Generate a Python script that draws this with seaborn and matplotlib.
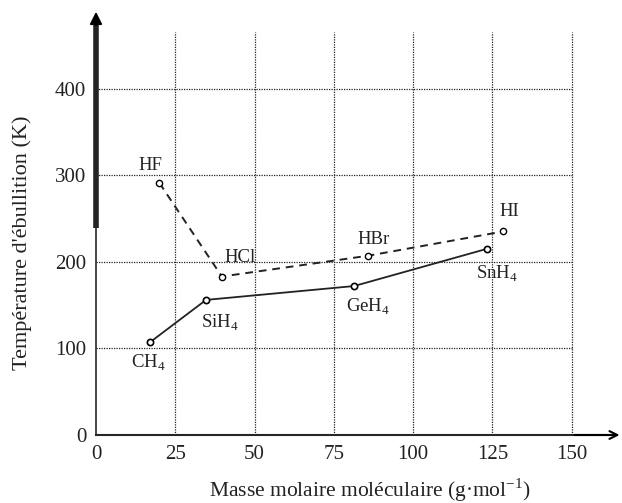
import pandas as pd
import seaborn as sns
import matplotlib.pyplot as plt

# données
masse_hx = [20, 39.7, 85.8, 128.4]
teb_hx = [291, 183, 207, 235]
noms_hx = ['HF', 'HCl', 'HBr', 'HI']

masse_xh4 = [17, 34.7, 81.4, 123.3]
teb_xh4 = [107, 156, 172, 215]
noms_xh4 = ['CH$_4$', 'SiH$_4$', 'GeH$_4$', 'SnH$_4$']

xticks = [0, 25, 50, 75, 100, 125, 150]
yticks = [0, 100, 200, 300, 400]

sns.set_style('white')
plt.rcParams['font.family'] = ['Liberation Serif', 'DejaVu Serif']
plt.rcParams['mathtext.fontset'] = 'custom'
plt.rcParams['mathtext.rm'] = 'Liberation Serif'

df_hx = pd.DataFrame({'M': masse_hx, 'T': teb_hx})
df_xh4 = pd.DataFrame({'M': masse_xh4, 'T': teb_xh4})

fig = plt.figure(figsize=(6.22, 5.03), dpi=100)
ax = fig.add_axes([96 / 622, 1 - 435 / 503, (616 - 96) / 622, (435 - 15) / 503])
ax.set_xlim(0, 164)
ax.set_ylim(0, 485)

# grille pointillée limitée à x <= 150
ax.vlines(xticks[1:], 0, 465, colors='#222222', linestyles=(0, (1, 1)), linewidth=0.9, zorder=0)
ax.hlines(yticks[1:], 0, 150, colors='#222222', linestyles=(0, (1, 1)), linewidth=0.9, zorder=0)

sns.lineplot(data=df_hx, x='M', y='T', ax=ax, color='#222222', linestyle=(0, (4, 3)), linewidth=1.4,
             marker='o', markersize=4.5, markerfacecolor='white', markeredgecolor='black',
             markeredgewidth=1.0, sort=False)
sns.lineplot(data=df_xh4, x='M', y='T', ax=ax, color='#222222', linewidth=1.3,
             marker='o', markersize=4.5, markerfacecolor='white', markeredgecolor='black',
             markeredgewidth=1.2, sort=False)

# étiquettes
decal_hx = [(-2.8, 20), (5.7, 22), (1.9, 18.5), (1.9, 23)]
for m, t, n, d in zip(masse_hx, teb_hx, noms_hx, decal_hx):
    ax.text(m + d[0], t + d[1], n, fontsize=13.5, ha='center', va='center', color='#222222')
decal_xh4 = [(-0.6, -24), (4.4, -26.6), (4.4, -24), (3.2, -29)]
for m, t, n, d in zip(masse_xh4, teb_xh4, noms_xh4, decal_xh4):
    ax.text(m + d[0], t + d[1], n, fontsize=13.5, ha='center', va='center', color='#222222')

for s in ['top', 'right']:
    ax.spines[s].set_visible(False)
ax.spines['left'].set_linewidth(1.2)
ax.spines['bottom'].set_linewidth(1.5)
# partie épaisse de l'axe vertical (comme sur l'original)
ax.plot([0, 0], [239, 478], color='#222222', linewidth=4, solid_capstyle='butt', clip_on=False)
ax.annotate('', xy=(0, 492), xytext=(0, 470), xycoords='data',
            arrowprops=dict(arrowstyle='-|>', color='black', lw=1.5, mutation_scale=18),
            annotation_clip=False)
ax.annotate('', xy=(166, 0), xytext=(150, 0), xycoords='data',
            arrowprops=dict(arrowstyle='->', color='black', lw=1.5, mutation_scale=14),
            annotation_clip=False)

ax.set_xticks(xticks)
ax.set_yticks(yticks)
ax.tick_params(axis='both', length=0, labelsize=15, pad=7, labelcolor='#222222')
ax.set_xlabel('Masse molaire moléculaire (g·mol$^{-1}$)', fontsize=15.5, color='#222222')
ax.set_ylabel("Température d'ébullition (K)", fontsize=16, color='#222222')
ax.xaxis.set_label_coords((370 - 96) / 520, -(490 - 435) / 420)
ax.yaxis.set_label_coords((22 - 96) / 520, (435 - 243) / 420)
ax.xaxis.label.set_va('center')
ax.yaxis.label.set_va('center')

fig.savefig('out.png', dpi=100)
